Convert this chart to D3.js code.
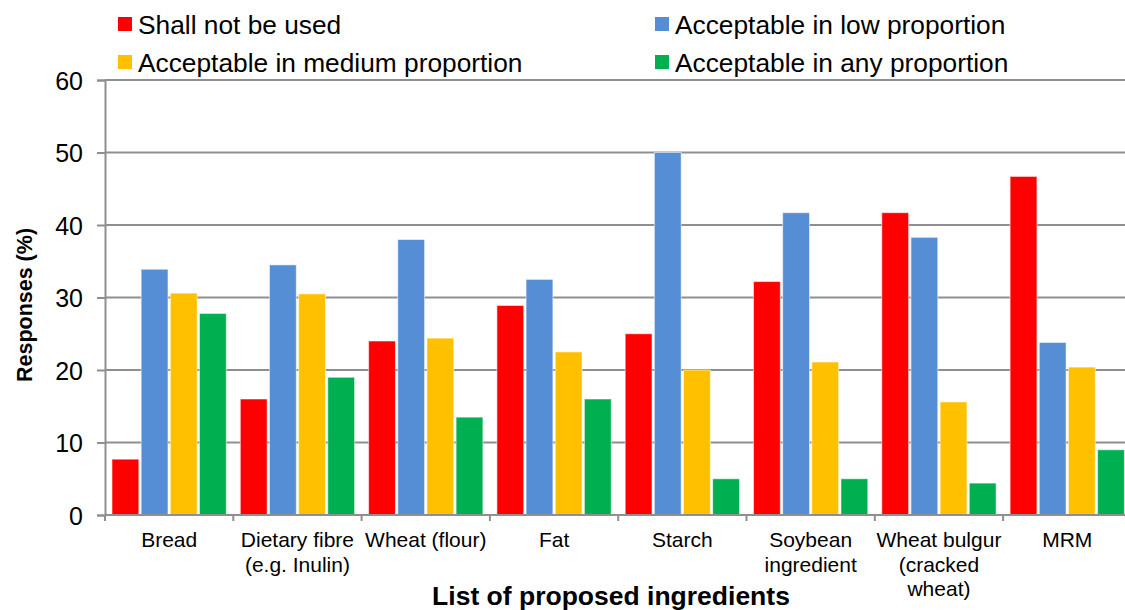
<!DOCTYPE html>
<html>
<head>
<meta charset="utf-8">
<script src="https://cdn.jsdelivr.net/npm/d3@7"></script>
<style>
  html, body { margin: 0; padding: 0; background: #fff; }
  svg { display: block; font-family: "Liberation Sans", Arial, sans-serif; }
</style>
</head>
<body>
<svg id="chart" width="1125" height="610"></svg>
<script>
// Ingredient categories and their (possibly wrapped) axis labels
const categories = ["Bread", "Dietary fibre (e.g. Inulin)", "Wheat (flour)", "Fat", "Starch",
  "Soybean ingredient", "Wheat bulgur (cracked wheat)", "MRM"];
const categoryLabelLines = [
  ["Bread"], ["Dietary fibre", "(e.g. Inulin)"], ["Wheat (flour)"], ["Fat"], ["Starch"],
  ["Soybean", "ingredient"], ["Wheat bulgur", "(cracked", "wheat)"], ["MRM"]
];

// Response shares (%) for each answer option
const seriesNames = ["Shall not be used", "Acceptable in low proportion",
  "Acceptable in medium proportion", "Acceptable in any proportion"];
const shallNotBeUsed   = [7.7, 16.0, 24.0, 28.9, 25.0, 32.2, 41.7, 46.7];
const lowProportion    = [33.9, 34.5, 38.0, 32.5, 50.0, 41.7, 38.3, 23.8];
const mediumProportion = [30.6, 30.5, 24.4, 22.5, 20.0, 21.1, 15.6, 20.4];
const anyProportion    = [27.8, 19.0, 13.5, 16.0, 5.0, 5.0, 4.4, 9.0];
const seriesColors = ["#ff0000", "#558ed5", "#ffc000", "#00b050"];

// Y axis ticks
const yTicks = [0, 10, 20, 30, 40, 50, 60];

const seriesValues = [shallNotBeUsed, lowProportion, mediumProportion, anyProportion];

const svg = d3.select("#chart");
const plotLeft = 105, plotRight = 1131.4, plotTop = 80, plotBottom = 515;

const x0 = d3.scaleBand().domain(categories).range([plotLeft, plotRight]);
const x1 = d3.scaleBand().domain(seriesNames)
  .range([7, x0.bandwidth() - 7]).paddingInner(0.08);
const y = d3.scaleLinear().domain([0, 60]).range([plotBottom, plotTop]);

// Horizontal gridlines
svg.append("g")
  .selectAll("line")
  .data(yTicks.filter(t => t > 0))
  .join("line")
  .attr("x1", plotLeft).attr("x2", 1125)
  .attr("y1", d => y(d)).attr("y2", d => y(d))
  .attr("stroke", "#8f8f8f").attr("stroke-width", 2);

// Bars
const groups = svg.append("g")
  .selectAll("g")
  .data(categories)
  .join("g")
  .attr("transform", d => `translate(${x0(d)},0)`);

groups.selectAll("rect")
  .data((c, i) => seriesNames.map((s, k) => ({ s, k, v: seriesValues[k][i] })))
  .join("rect")
  .attr("x", d => x1(d.s))
  .attr("width", x1.bandwidth())
  .attr("y", d => y(d.v))
  .attr("height", d => y(0) - y(d.v))
  .attr("fill", d => seriesColors[d.k])
  .attr("stroke", "rgba(255,255,255,0.55)")
  .attr("stroke-width", 1);

// Y axis
const yAxis = svg.append("g")
  .attr("transform", `translate(${plotLeft},0)`)
  .call(d3.axisLeft(y).tickValues(yTicks).tickSize(8).tickPadding(14).tickFormat(d3.format("d")));
yAxis.select(".domain").attr("stroke", "#8f8f8f").attr("stroke-width", 2);
yAxis.selectAll(".tick line").attr("stroke", "#8f8f8f").attr("stroke-width", 2);
yAxis.selectAll(".tick text")
  .attr("font-size", 25).attr("fill", "#000")
  .attr("font-family", "Liberation Sans, Arial, sans-serif")
  .attr("dy", "0.36em");

// X axis line with ticks at category boundaries
svg.append("line")
  .attr("x1", plotLeft).attr("x2", 1125).attr("y1", plotBottom).attr("y2", plotBottom)
  .attr("stroke", "#8f8f8f").attr("stroke-width", 2);
svg.append("g")
  .selectAll("line")
  .data(categories)
  .join("line")
  .attr("x1", d => x0(d)).attr("x2", d => x0(d))
  .attr("y1", plotBottom).attr("y2", plotBottom + 6)
  .attr("stroke", "#8f8f8f").attr("stroke-width", 2);

// Category labels
const catLabels = svg.append("g")
  .selectAll("text")
  .data(categories)
  .join("text")
  .attr("x", d => x0(d) + x0.bandwidth() / 2)
  .attr("y", 547)
  .attr("text-anchor", "middle")
  .attr("font-size", 21)
  .attr("fill", "#000");
catLabels.selectAll("tspan")
  .data((d, i) => categoryLabelLines[i])
  .join("tspan")
  .attr("x", function () { return d3.select(this.parentNode).attr("x"); })
  .attr("dy", (d, j) => j === 0 ? 0 : 24.5)
  .text(d => d);

// Axis titles
svg.append("text")
  .attr("x", 611).attr("y", 605)
  .attr("text-anchor", "middle")
  .attr("font-size", 26.5).attr("font-weight", "bold")
  .attr("fill", "#000")
  .text("List of proposed ingredients");

svg.append("text")
  .attr("transform", "translate(32,305) rotate(-90)")
  .attr("text-anchor", "middle")
  .attr("font-size", 21.5).attr("font-weight", "bold")
  .attr("fill", "#000")
  .text("Responses (%)");

// Legend (two columns, two rows)
const legendPos = [[118, 24], [655, 24], [118, 62], [655, 62]];
const legendOrder = [0, 1, 2, 3];
const legend = svg.append("g")
  .selectAll("g")
  .data(legendOrder)
  .join("g")
  .attr("transform", (d, i) => `translate(${legendPos[i][0]},${legendPos[i][1]})`);
legend.append("rect")
  .attr("x", 0).attr("y", -7).attr("width", 14).attr("height", 14)
  .attr("fill", d => seriesColors[d]);
legend.append("text")
  .attr("x", 20).attr("y", 9.5)
  .attr("font-size", 26.3).attr("fill", "#000")
  .text(d => seriesNames[d]);
</script>
</body>
</html>
